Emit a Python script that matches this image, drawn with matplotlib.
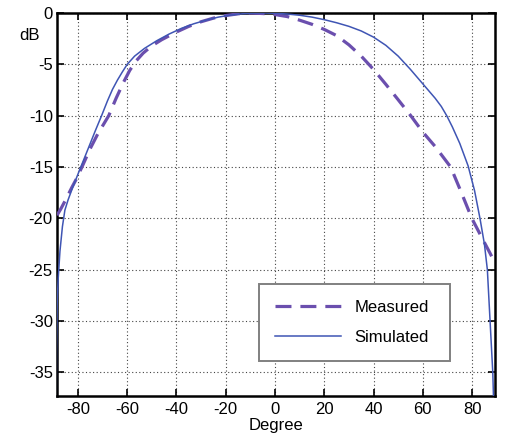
import matplotlib
matplotlib.use("Agg")
import matplotlib.pyplot as plt

plt.rcParams['font.family'] = ['Liberation Sans', 'DejaVu Sans']

# Radiation pattern (angle in degrees, normalized gain in dB)
sim_deg = [-89.0, -88.7, -88.4, -88.0, -87.3, -86.3, -85.3, -84.0, -82.0, -80.0,
           -78.5, -76.0, -73.0, -70.4, -68.0, -66.0, -64.0, -62.0, -60.0, -57.0,
           -53.0, -48.0, -43.0, -38.0, -33.0, -28.0, -23.0, -18.0, -13.0, -8.0,
           -4.0, 0.0, 5.0, 10.0, 15.0, 20.0, 25.0, 30.0, 35.0, 40.0,
           45.0, 50.0, 55.0, 60.0, 65.0, 67.5, 69.7, 72.0, 75.0, 78.4,
           81.0, 83.2, 85.0, 86.2, 87.3, 88.4, 89.0]
sim_db = [-45.0, -33.0, -28.0, -25.8, -23.2, -20.8, -19.2, -18.2, -16.9, -15.7,
          -14.8, -13.3, -11.5, -10.0, -8.55, -7.45, -6.55, -5.75, -5.0, -4.2,
          -3.45, -2.7, -2.05, -1.5, -1.05, -0.7, -0.4, -0.2, -0.07, -0.01,
          0.0, -0.03, -0.1, -0.22, -0.4, -0.65, -0.95, -1.3, -1.75, -2.35,
          -3.15, -4.2, -5.5, -6.9, -8.3, -9.1, -10.0, -11.1, -12.7, -14.9,
          -17.3, -20.0, -22.5, -25.0, -30.0, -35.0, -40.0]

meas_deg = [-88.5, -87.0, -85.0, -82.5, -80.5, -78.0, -75.0, -72.0, -69.5, -67.5,
            -64.5, -61.5, -59.0, -56.5, -53.5, -50.0, -46.0, -40.0, -35.0, -30.0,
            -25.0, -20.0, -15.0, -10.0, -5.0, 0.0, 5.0, 10.0, 15.0, 20.0,
            25.0, 30.0, 35.0, 40.0, 45.0, 50.0, 55.1, 60.0, 65.0, 71.3,
            75.5, 79.9, 84.0, 87.3, 89.0]
meas_db = [-19.7, -19.1, -18.2, -17.0, -16.1, -14.8, -13.2, -11.8, -10.8, -10.0,
           -8.3, -6.75, -5.6, -4.7, -3.9, -3.2, -2.6, -1.85, -1.3, -0.85,
           -0.5, -0.25, -0.08, 0.0, -0.05, -0.15, -0.35, -0.7, -1.1, -1.6,
           -2.2, -3.1, -4.2, -5.5, -6.95, -8.45, -10.0, -11.6, -13.0, -15.0,
           -17.4, -20.0, -21.9, -23.4, -24.2]

x_ticks = [-80, -60, -40, -20, 0, 20, 40, 60, 80]
y_ticks = [0, -5, -10, -15, -20, -25, -30, -35]

fig = plt.figure(figsize=(5.14, 4.40), dpi=100)
ax = fig.add_axes([57 / 514, 1 - 396 / 440, 438 / 514, 383 / 440])

ax.plot(meas_deg, meas_db, color='#6b4fae', lw=2.3, dashes=(5, 2.8),
        label='Measured', zorder=3)
ax.plot(sim_deg, sim_db, color='#3f55b4', lw=1.1, label='Simulated', zorder=3)

ax.set_xlim(-88.5, 89.3)
ax.set_ylim(-37.3, 0)
ax.set_xticks(x_ticks)
ax.set_yticks(y_ticks)
ax.set_xticklabels([str(v) for v in x_ticks])
ax.set_yticklabels([str(v) for v in y_ticks])

ax.grid(True, color='#444444', linestyle=(0, (1, 2.2)), lw=0.8)
ax.tick_params(direction='in', length=5, width=1.2, top=True, right=True,
               labelsize=12, colors='black')
ax.tick_params(axis='x', pad=4)
ax.tick_params(axis='y', pad=3)
for s in ax.spines.values():
    s.set_linewidth(1.8)
    s.set_color('black')

ax.set_xlabel('Degree', fontsize=12, labelpad=1)
fig.text(29 / 514, 1 - 36 / 440, 'dB', ha='center', va='center', fontsize=12)

leg = ax.legend(loc='lower left', bbox_to_anchor=(0.461, 0.0914, 0.436, 0.209),
                mode='expand', fontsize=12, frameon=True, fancybox=False,
                handlelength=4.0, handletextpad=0.8, labelspacing=0.9,
                borderpad=0.95, borderaxespad=0)
leg.get_frame().set_edgecolor('#808080')
leg.get_frame().set_linewidth(1.4)
leg.get_frame().set_alpha(1)

fig.savefig('out.png', dpi=100)
